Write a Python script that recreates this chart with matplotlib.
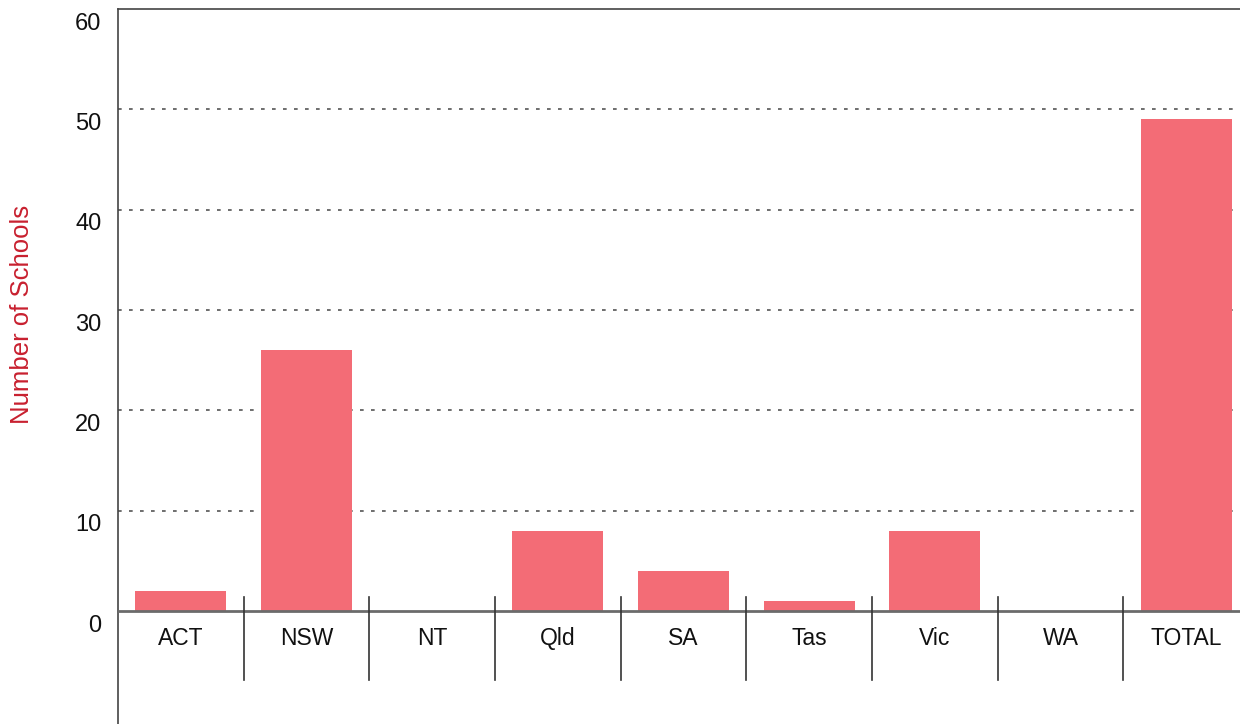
import matplotlib
matplotlib.use("Agg")
import matplotlib.pyplot as plt
from matplotlib.transforms import ScaledTranslation

categories = ["ACT", "NSW", "NT", "Qld", "SA", "Tas", "Vic", "WA", "TOTAL"]
schools = [2, 26, 0, 8, 4, 1, 8, 0, 49]
yticks = [0, 10, 20, 30, 40, 50, 60]

plt.rcParams['font.family'] = ['Liberation Sans', 'DejaVu Sans']

fig = plt.figure(figsize=(12.4, 7.24), dpi=100)
ax = fig.add_axes([118/1240, 0, 1131/1240, 1 - 9/724])

x = list(range(len(categories)))
ax.bar(x, schools, width=0.725, color='#f36c76', zorder=2)

ax.set_xlim(-0.5, len(categories) - 0.5)
ax.set_ylim(-11.26, 60)

for v in yticks[1:-1]:
    ax.axhline(v, color='#555555', lw=1.2, linestyle=(0, (2.2, 4.4)), zorder=1)
ax.axhline(0, color='#6b6b6b', lw=2, zorder=3)

for i in range(len(categories) - 1):
    ax.plot([i + 0.5, i + 0.5], [1.4, -6.9], color='#333333', lw=1.2, zorder=3)

for i, c in enumerate(categories):
    ax.text(i, -2.75, c, ha='center', va='center', fontsize=16.5, color='#111111')

ax.set_xticks([])
ax.set_yticks(yticks)
ax.set_yticklabels([str(v) for v in yticks], fontsize=17, color='#111111')
ax.tick_params(axis='y', length=0, pad=12)
off = ScaledTranslation(0, -12/100, fig.dpi_scale_trans)
for lab in ax.get_yticklabels():
    lab.set_transform(lab.get_transform() + off)

for s in ['right', 'bottom']:
    ax.spines[s].set_visible(False)
ax.spines['left'].set_color('#444444')
ax.spines['top'].set_color('#444444')
ax.spines['left'].set_linewidth(1.2)
ax.spines['top'].set_linewidth(1.2)

fig.text(22/1240, 1 - 314/724, "Number of Schools", rotation=90, ha='center', va='center',
         fontsize=18.5, color='#c8202f')

fig.savefig("out.png", dpi=100)
